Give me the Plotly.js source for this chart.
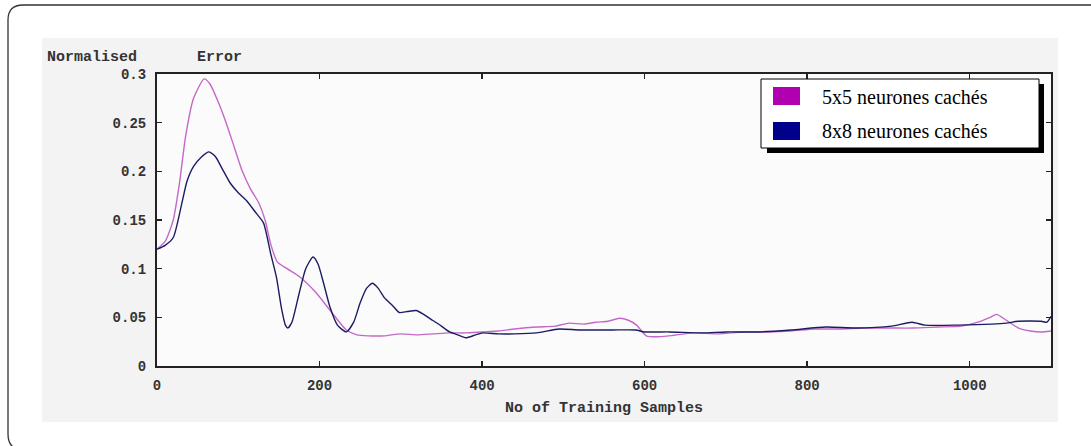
<!DOCTYPE html>
<html>
<head>
<meta charset="utf-8">
<script src="https://cdn.plot.ly/plotly-3.0.1.min.js"></script>
<style>html,body{margin:0;padding:0;background:#fff;}#chart{width:1091px;height:446px;}</style>
</head>
<body>
<div id="chart"></div>
<script>
// ---- data ----
const seriesNames = ["5x5 neurones cachés", "8x8 neurones cachés"];

const x5 = [0,10,20,28,35,45,58,65,75,85,95,105,115,125,133,140,148,160,175,195,215,233,246,260,280,300,320,340,360,380,400,420,440,467,490,507,525,540,555,569,580,590,602,615,630,660,690,720,753,780,810,840,870,904,930,960,990,1010,1025,1033,1045,1060,1075,1088,1100];
const y5 = [0.12,0.128,0.15,0.19,0.235,0.275,0.295,0.29,0.272,0.25,0.225,0.2,0.182,0.168,0.15,0.125,0.107,0.1,0.092,0.076,0.055,0.037,0.032,0.031,0.031,0.033,0.032,0.033,0.034,0.034,0.035,0.036,0.038,0.04,0.041,0.044,0.043,0.045,0.046,0.049,0.047,0.042,0.031,0.03,0.031,0.034,0.033,0.035,0.035,0.036,0.038,0.038,0.039,0.039,0.039,0.04,0.041,0.045,0.05,0.053,0.047,0.039,0.036,0.035,0.036];

const x8 = [0,10,20,30,37,45,55,64,72,80,90,100,110,122,131,140,147,153,158,161,166,175,183,192,198,205,213,222,233,242,250,258,265,272,280,290,298,308,319,328,339,350,360,370,380,392,401,420,440,467,495,520,560,589,600,630,671,700,741,780,823,860,904,929,945,986,1027,1045,1060,1088,1095,1100];
const y8 = [0.12,0.124,0.132,0.165,0.19,0.205,0.215,0.22,0.215,0.203,0.188,0.178,0.17,0.157,0.147,0.115,0.091,0.06,0.042,0.039,0.045,0.075,0.1,0.112,0.105,0.085,0.06,0.042,0.035,0.045,0.065,0.08,0.085,0.08,0.07,0.062,0.055,0.056,0.057,0.053,0.047,0.041,0.035,0.032,0.029,0.032,0.034,0.033,0.033,0.034,0.038,0.037,0.037,0.037,0.035,0.035,0.034,0.035,0.035,0.037,0.04,0.039,0.041,0.045,0.042,0.042,0.043,0.044,0.046,0.046,0.045,0.051];

const xTicks = [0,200,400,600,800,1000];
const yTicks = [0,0.05,0.1,0.15,0.2,0.25,0.3];
const colors = ["#c468c8", "#1c1c62"];
const swatchColors = ["#b000b0", "#00008b"];

// ---- pixel helpers (plot area 157..1051 x 74..366) ----
const L = 157, R = 1051, T = 74, B = 366;
const px = p => (p - L) / (R - L);
const py = p => (B - p) / (B - T);

const traces = [
  {x: x5, y: y5, mode: "lines", name: seriesNames[0], line: {color: colors[0], width: 1.4, shape: "spline", smoothing: 0.6}, showlegend: false},
  {x: x8, y: y8, mode: "lines", name: seriesNames[1], line: {color: colors[1], width: 1.4, shape: "spline", smoothing: 0.6}, showlegend: false}
];

const mono = {family: "Liberation Mono, Courier New, monospace", size: 15, color: "#333", weight: "bold"};
const tickMono = {family: "Liberation Mono, Courier New, monospace", size: 14, color: "#333", weight: "bold"};

const shapes = [
  // grey frame region
  {type: "rect", xref: "paper", yref: "paper", x0: px(42), x1: px(1058), y0: py(422), y1: py(38), fillcolor: "#f3f3f3", line: {width: 0}, layer: "below"},
  // plot area
  {type: "rect", xref: "paper", yref: "paper", x0: 0, x1: 1, y0: 0, y1: 1, fillcolor: "#fbfbfb", line: {width: 0}, layer: "below"},
  // outer rounded border
  {type: "path", xref: "paper", yref: "paper", layer: "below",
   path: `M ${px(24)},${py(450)} Q ${px(8)},${py(450)} ${px(8)},${py(434)} L ${px(8)},${py(20)} Q ${px(8)},${py(5)} ${px(23)},${py(5)} L ${px(1100)},${py(5)}`,
   line: {color: "#333", width: 1.3}},
  // legend shadow
  {type: "rect", xref: "paper", yref: "paper", x0: px(767), x1: px(1044), y0: py(153), y1: py(84), fillcolor: "#000", line: {width: 0}, layer: "above"},
  // legend box
  {type: "rect", xref: "paper", yref: "paper", x0: px(761), x1: px(1039), y0: py(148), y1: py(79), fillcolor: "#fff", line: {color: "#000", width: 1}, layer: "above"},
  // swatches
  {type: "rect", xref: "paper", yref: "paper", x0: px(773), x1: px(800), y0: py(105), y1: py(87), fillcolor: swatchColors[0], line: {width: 0}, layer: "above"},
  {type: "rect", xref: "paper", yref: "paper", x0: px(773), x1: px(800), y0: py(140), y1: py(122), fillcolor: swatchColors[1], line: {width: 0}, layer: "above"}
];

const serif = {family: "Liberation Serif, Times New Roman, serif", size: 20, color: "#000"};
const annotations = [
  {xref: "paper", yref: "paper", x: px(45), y: py(57), xanchor: "left", yanchor: "middle", text: "Normalised", showarrow: false, font: mono},
  {xref: "paper", yref: "paper", x: px(195), y: py(57), xanchor: "left", yanchor: "middle", text: "Error", showarrow: false, font: mono},
  {xref: "paper", yref: "paper", x: px(604), y: py(408), xanchor: "center", yanchor: "middle", text: "No of Training Samples", showarrow: false, font: mono},
  {xref: "paper", yref: "paper", x: px(820), y: py(97), xanchor: "left", yanchor: "middle", text: seriesNames[0], showarrow: false, font: serif},
  {xref: "paper", yref: "paper", x: px(820), y: py(131), xanchor: "left", yanchor: "middle", text: seriesNames[1], showarrow: false, font: serif}
];

const layout = {
  width: 1091, height: 446,
  margin: {l: L, r: 1091 - R, t: T, b: 446 - B, pad: 0},
  paper_bgcolor: "#ffffff",
  plot_bgcolor: "rgba(0,0,0,0)",
  showlegend: false,
  xaxis: {range: [0, 1100], tickvals: xTicks, ticktext: xTicks.map(String), showgrid: false, zeroline: false,
          showline: true, linecolor: "#222", linewidth: 2, mirror: "ticks", ticks: "inside", ticklen: 5, tickwidth: 1.5,
          tickcolor: "#222", tickfont: tickMono, ticklabelstandoff: 5, fixedrange: true},
  yaxis: {range: [0, 0.3], tickvals: yTicks, ticktext: yTicks.map(String), showgrid: false, zeroline: false,
          showline: true, linecolor: "#222", linewidth: 2, mirror: "ticks", ticks: "inside", ticklen: 5, tickwidth: 1.5,
          tickcolor: "#222", tickfont: tickMono, ticklabelstandoff: 6, fixedrange: true},
  shapes: shapes,
  annotations: annotations
};

Plotly.newPlot("chart", traces, layout, {displayModeBar: false, staticPlot: true});
</script>
</body>
</html>
